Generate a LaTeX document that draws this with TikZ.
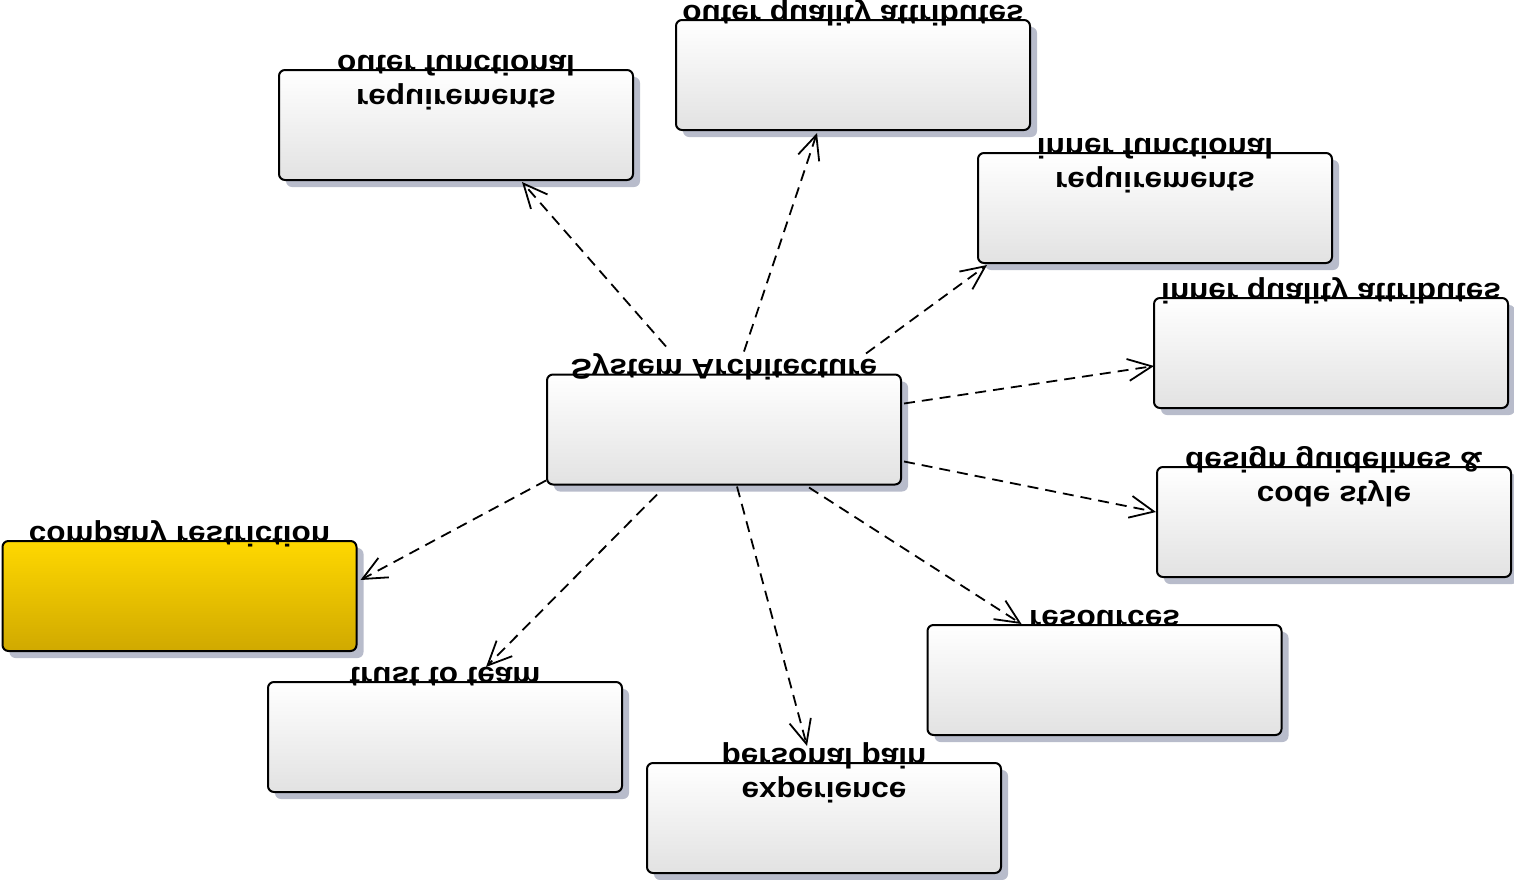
\documentclass[tikz,border=0pt]{standalone}
\usepackage{fontspec}
\setmainfont{Liberation Sans}
\usetikzlibrary{shadows,arrows.meta}
\definecolor{shadowc}{HTML}{B8BCCB}
\definecolor{boxbot}{HTML}{E2E2E2}
\definecolor{goldtop}{HTML}{FFD800}
\definecolor{goldbot}{HTML}{D0A900}
% captions are printed mirrored top to bottom
\newcommand{\fliptext}[1]{\scalebox{1}[-0.9]{#1}}

\begin{document}
\begin{tikzpicture}[x=1pt,y=-1pt,
  card/.style={draw=black, line width=2pt, rounded corners=6pt,
    minimum width=354pt, minimum height=110pt, inner sep=0pt,
    top color=white, bottom color=boxbot,
    drop shadow={shadow xshift=7pt, shadow yshift=-7pt, fill=shadowc, opacity=1}},
  goldcard/.style={card, top color=goldtop, bottom color=goldbot},
  caption/.style={anchor=base, inner sep=0pt, font=\fontsize{31.5}{31.5}\selectfont\bfseries},
  dep/.style={draw, line width=1.8pt, dash pattern=on 11pt off 7pt,
    -{Straight Barb[length=24pt,width=22pt,line width=1.8pt]}}
]
\useasboundingbox (0,0) rectangle (1514,879);

% requirement and constraint cards
\node[card] (ofr) at (456,125) {};
\node[card] (oqa) at (853,75) {};
\node[card] (ifr) at (1155,208) {};
\node[card] (iqa) at (1331,353) {};
\node[card] (sa) at (724,429.5) {};
\node[card] (dg) at (1334,522) {};
\node[goldcard] (cr) at (179.5,596) {};
\node[card] (res) at (1104.5,680) {};
\node[card] (tt) at (445,737) {};
\node[card] (pp) at (824,818) {};

% captions
\node[caption] (ofr1) at ([yshift=14pt]ofr.north) {\fliptext{outer functional}};
\node[caption] (ofr2) at ([yshift=-20pt]ofr.north) {\fliptext{requirements}};
\node[caption] (oqa1) at ([yshift=14pt]oqa.north) {\fliptext{outer quality attributes}};
\node[caption] (ifr1) at ([yshift=14pt]ifr.north) {\fliptext{inner functional}};
\node[caption] (ifr2) at ([yshift=-20pt]ifr.north) {\fliptext{requirements}};
\node[caption] (iqa1) at ([yshift=14pt]iqa.north) {\fliptext{inner quality attributes}};
\node[caption] (sa1) at ([yshift=14pt]sa.north) {\fliptext{System Architecture}};
\node[caption] (dg1) at ([yshift=14pt]dg.north) {\fliptext{design guidelines \&}};
\node[caption] (dg2) at ([yshift=-20pt]dg.north) {\fliptext{code style}};
\node[caption] (cr1) at ([yshift=14pt]cr.north) {\fliptext{company restriction}};
\node[caption] (res1) at ([yshift=14pt]res.north) {\fliptext{resources}};
\node[caption] (tt1) at ([yshift=14pt]tt.north) {\fliptext{trust to team}};
\node[caption] (pp1) at ([yshift=14pt]pp.north) {\fliptext{personal pain}};
\node[caption] (pp2) at ([yshift=-20pt]pp.north) {\fliptext{experience}};

% dependencies of the architecture
\draw[dep] ([xshift=120pt,yshift=27pt]sa.north west) -- ([xshift=244pt,yshift=-1pt]ofr.south west);
\draw[dep] ([xshift=198pt,yshift=22pt]sa.north west) -- ([xshift=142pt,yshift=-2pt]oqa.south west);
\draw[dep] ([xshift=320pt,yshift=20pt]sa.north west) -- ([xshift=10pt,yshift=-1pt]ifr.south west);
\draw[dep] ([xshift=2pt,yshift=-30pt]sa.north east) -- ([xshift=1pt,yshift=-69pt]iqa.north west);
\draw[dep] ([xshift=2pt,yshift=-88pt]sa.north east) -- ([yshift=-46pt]dg.north west);
\draw[dep] ([yshift=5pt]sa.south west) -- ([xshift=3pt,yshift=-40pt]cr.north east);
\draw[dep] ([xshift=111pt,yshift=-9pt]sa.south west) -- ([xshift=219pt,yshift=14pt]tt.north west);
\draw[dep] ([xshift=191pt,yshift=-1pt]sa.south west) -- ([xshift=161pt,yshift=16pt]pp.north west);
\draw[dep] ([xshift=263pt,yshift=-2pt]sa.south west) -- ([xshift=95pt]res.north west);
\end{tikzpicture}
\end{document}
